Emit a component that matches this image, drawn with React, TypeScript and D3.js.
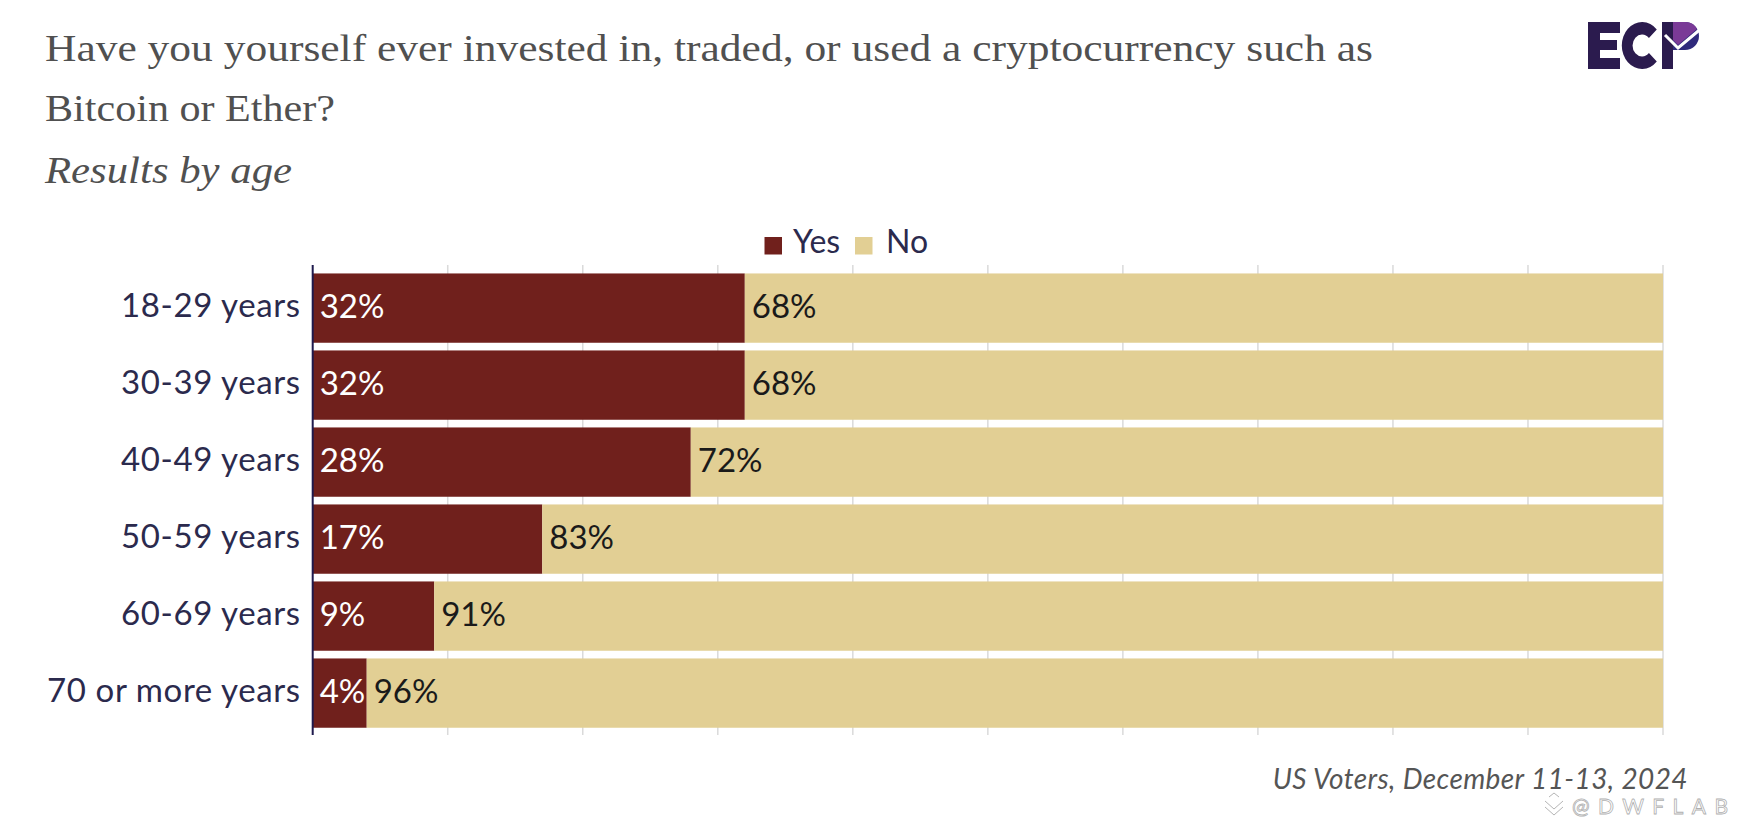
import React, { useEffect } from "react";
import * as d3 from "d3";

// ---------- data ----------
const categories = [
  "18-29 years",
  "30-39 years",
  "40-49 years",
  "50-59 years",
  "60-69 years",
  "70 or more years",
];
const yesValues = [32, 32, 28, 17, 9, 4];
const noValues = [68, 68, 72, 83, 91, 96];
const seriesKeys = ["Yes", "No"];
const xDomain = [0, 100];
const titleLines = [
  "Have you yourself ever invested in, traded, or used a cryptocurrency such as",
  "Bitcoin or Ether?",
];
const subtitle = "Results by age";
const caption = "US Voters, December 11-13, 2024";
const watermark = "@DWFLAB";

// ---------- style ----------
const W = 1739;
const H = 824;
const colors: Record<string, string> = { Yes: "#70201c", No: "#e2cf94" };
const labelFill: Record<string, string> = { Yes: "#ffffff", No: "#1a1a1a" };
const sans = "Lato, 'Noto Sans', sans-serif";
const serif = "'Liberation Serif', 'DejaVu Serif', serif";

export default function App() {
  useEffect(() => {
    document.body.style.margin = "0";
    document.body.style.background = "#ffffff";
  }, []);

  const rows = categories.map((c, i) => ({ cat: c, Yes: yesValues[i], No: noValues[i] }));
  const stacked = d3.stack<any>().keys(seriesKeys)(rows);

  const x = d3.scaleLinear().domain(xDomain).range([312.7, 1663]);
  const y = d3
    .scaleBand<string>()
    .domain(categories)
    .range([269.6, 731.6])
    .paddingInner(0.1)
    .paddingOuter(0.05);
  const ticks = x.ticks(10);
  const gridTop = 265;
  const gridBottom = 735;

  const cArc = d3
    .arc()
    .innerRadius(11)
    .outerRadius(23.5)
    .startAngle(Math.PI / 2 + 0.75)
    .endAngle(Math.PI * 2 + Math.PI / 2 - 0.75);

  return (
    <div style={{ position: "absolute", left: 0, top: 0 }}>
      <svg width={W} height={H} style={{ display: "block", background: "#fff" }}>
        {/* title */}
        <text
          x={45}
          y={60.5}
          fontFamily={serif}
          fontSize={37}
          fill="#505050"
          textLength={1328}
          lengthAdjust="spacingAndGlyphs"
        >
          {titleLines[0]}
        </text>
        <text
          x={45}
          y={120.5}
          fontFamily={serif}
          fontSize={37}
          fill="#505050"
          textLength={290}
          lengthAdjust="spacingAndGlyphs"
        >
          {titleLines[1]}
        </text>
        <text
          x={45}
          y={183}
          fontFamily={serif}
          fontStyle="italic"
          fontSize={37}
          fill="#505050"
          textLength={247}
          lengthAdjust="spacingAndGlyphs"
        >
          {subtitle}
        </text>

        {/* logo */}
        <g>
          <rect x={1588} y={22} width={12} height={47} fill="#2b1b4e" />
          <rect x={1588} y={22} width={32} height={11} fill="#2b1b4e" />
          <rect x={1588} y={40} width={29} height={10} fill="#2b1b4e" />
          <rect x={1588} y={58} width={32} height={11} fill="#2b1b4e" />
          <path
            d={cArc(null as any) as string}
            transform="translate(1642,45.5) scale(0.86,1)"
            fill="#2b1b4e"
          />
          <rect x={1662} y={22} width={11} height={47} fill="#2b1b4e" />
          <path d="M1673,22 H1685 A14 14 0 0 1 1685,50 H1673 Z" fill="#2f2a7c" />
          <path d="M1673,22 H1685 A13 13 0 0 1 1697,29 L1678,45 L1673,40 Z" fill="#7a3a97" />
          <path d="M1665,35 L1678,48 L1703,27" fill="none" stroke="#ffffff" strokeWidth={3} />
        </g>

        {/* legend */}
        <g fontFamily={sans} fontSize={32} fill="#2b2a4d">
          <rect x={764.5} y={237} width={17.5} height={17.5} fill={colors.Yes} />
          <text x={793} y={253}>{seriesKeys[0]}</text>
          <rect x={855} y={237} width={17.5} height={17.5} fill={colors.No} />
          <text x={886} y={253}>{seriesKeys[1]}</text>
        </g>

        {/* grid lines */}
        <g>
          {ticks
            .filter((t) => t !== 0)
            .map((t) => (
              <line
                key={t}
                x1={x(t)}
                x2={x(t)}
                y1={gridTop}
                y2={gridBottom}
                stroke="#dadada"
                strokeWidth={1.5}
              />
            ))}
        </g>

        {/* bars */}
        {stacked.map((s) => (
          <g key={s.key} fill={colors[s.key]}>
            {s.map((d: any, i: number) => (
              <rect
                key={i}
                x={x(d[0])}
                y={y(categories[i])}
                width={x(d[1]) - x(d[0])}
                height={y.bandwidth()}
              />
            ))}
          </g>
        ))}

        {/* value labels */}
        {stacked.map((s) => (
          <g key={"l" + s.key} fontFamily={sans} fontSize={33} fill={labelFill[s.key]}>
            {s.map((d: any, i: number) => (
              <text
                key={i}
                x={x(d[0]) + 7}
                y={(y(categories[i]) as number) + y.bandwidth() / 2 + 10}
              >
                {`${d[1] - d[0]}%`}
              </text>
            ))}
          </g>
        ))}

        {/* y axis */}
        <line
          x1={x(0)}
          x2={x(0)}
          y1={gridTop}
          y2={gridBottom}
          stroke="#1f1a4d"
          strokeWidth={2}
        />
        <g fontFamily={sans} fontSize={33} fill="#2b2a4d" textAnchor="end">
          {categories.map((c) => (
            <text
              key={c}
              x={x(0) - 12}
              y={(y(c) as number) + y.bandwidth() / 2 + 9}
              letterSpacing={0.6}
            >
              {c}
            </text>
          ))}
        </g>

        {/* caption */}
        <text
          x={1688}
          y={789}
          textAnchor="end"
          fontFamily={sans}
          fontStyle="italic"
          fontSize={28}
          fill="#555555"
          letterSpacing={0.4}
        >
          {caption}
        </text>

        {/* watermark */}
        <g fill="none" stroke="#b5b5b5" strokeWidth={1}>
          <path d="M1545,801 L1554,809 L1563,801" />
          <path d="M1545,807 L1554,815 L1563,807" />
          <path d="M1549,797 L1554,793 L1559,797" />
        </g>
        <text
          x={1572}
          y={814}
          fontFamily={sans}
          fontSize={21}
          fill="#ffffff"
          stroke="#b0b0b0"
          strokeWidth={0.8}
          textLength={156}
          lengthAdjust="spacing"
        >
          {watermark}
        </text>
      </svg>
    </div>
  );
}
